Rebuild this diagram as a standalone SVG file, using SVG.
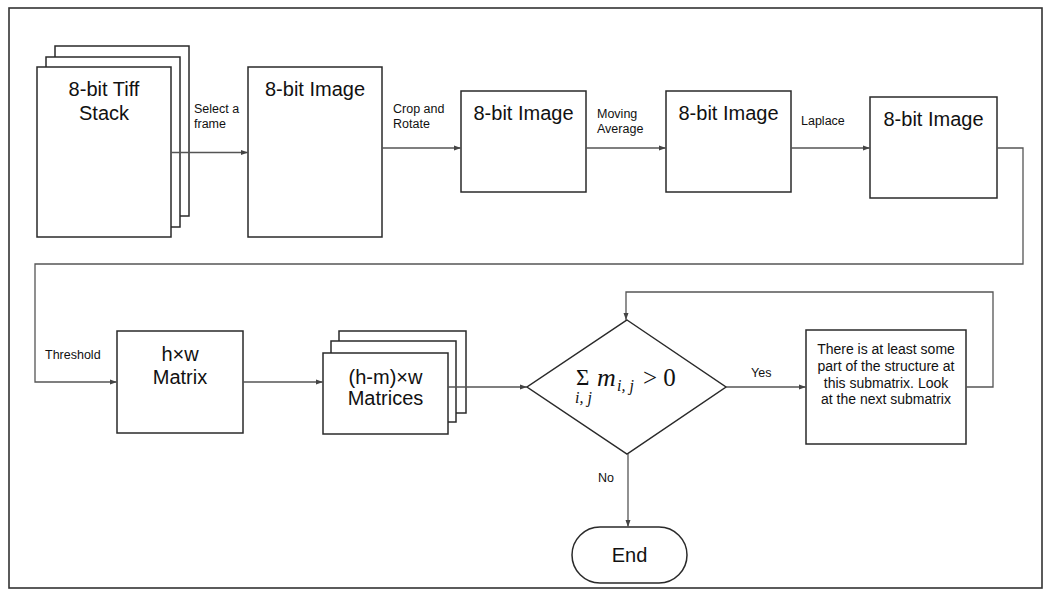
<svg xmlns="http://www.w3.org/2000/svg" width="1050" height="598" viewBox="0 0 1050 598">
<style>
.box{fill:#fff;stroke:#2a2a2a;stroke-width:1.5}
.t{font-family:"Liberation Sans",Arial,sans-serif;font-size:20px;fill:#111;text-anchor:middle}
.lbl{font-family:"Liberation Sans",Arial,sans-serif;font-size:12.5px;fill:#111}
.note{font-family:"Liberation Sans",Arial,sans-serif;font-size:14px;fill:#111;text-anchor:middle}
.c{fill:none;stroke:#555;stroke-width:1.3}
.m{font-family:"Liberation Serif","Times New Roman",serif;fill:#111}
</style>
<defs>
<marker id="ah" markerUnits="userSpaceOnUse" markerWidth="7" markerHeight="6" refX="7" refY="3" orient="auto">
<path d="M0,0.5 L7,3 L0,5.5 z" fill="#444"/>
</marker>
</defs>
<rect x="9" y="8" width="1033" height="580" fill="#fff" stroke="#333" stroke-width="1.6"/>

<g id="tiff-stack">
<rect class="box" x="55" y="46" width="134" height="170"/>
<rect class="box" x="46" y="57" width="134" height="170"/>
<rect class="box" x="37" y="67" width="134" height="170"/>
<text class="t" x="104" y="96">8-bit Tiff</text>
<text class="t" x="104" y="120">Stack</text>
</g>
<g id="image1">
<rect class="box" x="248" y="67" width="134" height="170"/>
<text class="t" x="315" y="96">8-bit Image</text>
</g>
<g id="image2">
<rect class="box" x="461" y="91" width="125" height="101"/>
<text class="t" x="523.5" y="120">8-bit Image</text>
</g>
<g id="image3">
<rect class="box" x="666" y="91" width="125" height="101"/>
<text class="t" x="728.5" y="120">8-bit Image</text>
</g>
<g id="image4">
<rect class="box" x="870" y="97" width="127" height="101"/>
<text class="t" x="933.5" y="126">8-bit Image</text>
</g>
<g id="hw-matrix">
<rect class="box" x="117" y="331" width="126" height="102"/>
<text class="t" x="180" y="361">h×w</text>
<text class="t" x="180" y="384">Matrix</text>
</g>
<g id="submatrices">
<rect class="box" x="339" y="331" width="127" height="82"/>
<rect class="box" x="331" y="341" width="125" height="81"/>
<rect class="box" x="323" y="353" width="125" height="81"/>
<text class="t" x="385.5" y="384">(h-m)×w</text>
<text class="t" x="385.5" y="405">Matrices</text>
</g>
<g id="decision">
<polygon class="box" points="627,320 726,387 627,454 527,387"/>
<text class="m" x="576" y="385" font-size="23">Σ</text>
<text class="m" x="575" y="403" font-size="16" font-style="italic">i, j</text>
<text class="m" x="597" y="386" font-size="26" font-style="italic">m</text>
<text class="m" x="617" y="391" font-size="16" font-style="italic">i, j</text>
<text class="m" x="643" y="386" font-size="25">&gt; 0</text>
</g>
<g id="found">
<rect class="box" x="806" y="330" width="160" height="114"/>
<text class="note" x="886" y="354">There is at least some</text>
<text class="note" x="886" y="371">part of the structure at</text>
<text class="note" x="886" y="387.5">this submatrix. Look</text>
<text class="note" x="886" y="404">at the next submatrix</text>
</g>
<g id="end">
<rect class="box" x="572" y="527" width="115" height="56" rx="28" ry="28"/>
<text class="t" x="629.5" y="562">End</text>
</g>

<g id="connectors">
<line class="c" x1="171" y1="152.5" x2="248" y2="152.5" marker-end="url(#ah)"/>
<line class="c" x1="382" y1="148" x2="461" y2="148" marker-end="url(#ah)"/>
<line class="c" x1="586" y1="148" x2="666" y2="148" marker-end="url(#ah)"/>
<line class="c" x1="791" y1="148" x2="870" y2="148" marker-end="url(#ah)"/>
<polyline class="c" points="997,148 1023,148 1023,264 35,264 35,382 117,382" marker-end="url(#ah)"/>
<line class="c" x1="243" y1="382" x2="323" y2="382" marker-end="url(#ah)"/>
<line class="c" x1="448" y1="387" x2="527" y2="387" marker-end="url(#ah)"/>
<line class="c" x1="726" y1="387" x2="806" y2="387" marker-end="url(#ah)"/>
<polyline class="c" points="966,387 993,387 993,292 626,292 626,320" marker-end="url(#ah)"/>
<line class="c" x1="628" y1="454" x2="628" y2="527" marker-end="url(#ah)"/>
</g>
<g id="labels">
<text class="lbl" x="194" y="113">Select a</text>
<text class="lbl" x="194" y="128">frame</text>
<text class="lbl" x="393" y="113">Crop and</text>
<text class="lbl" x="393" y="128">Rotate</text>
<text class="lbl" x="597" y="118">Moving</text>
<text class="lbl" x="597" y="133">Average</text>
<text class="lbl" x="801" y="124.5">Laplace</text>
<text class="lbl" x="45" y="359">Threshold</text>
<text class="lbl" x="751" y="377">Yes</text>
<text class="lbl" x="598" y="482">No</text>
</g>
</svg>
